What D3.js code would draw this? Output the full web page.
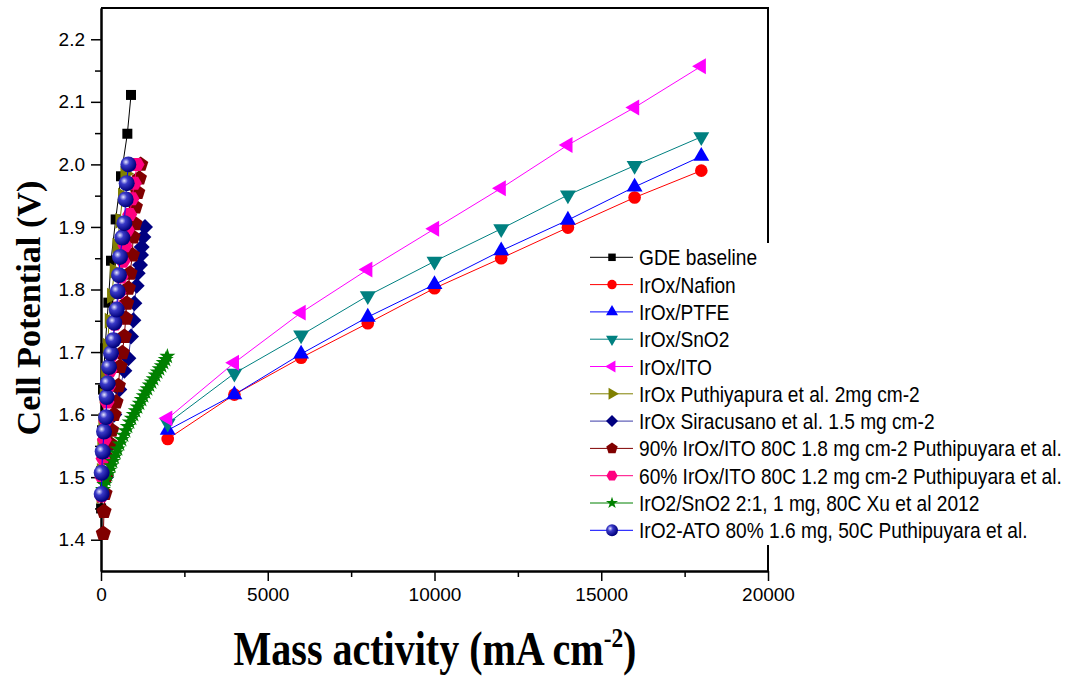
<!DOCTYPE html>
<html>
<head>
<meta charset="utf-8">
<script src="https://cdn.jsdelivr.net/npm/d3@7"></script>
<style>
  body { margin: 0; background: #fff; }
</style>
</head>
<body>
<div id="chart"></div>
<script>
// ---- data ----
var highX = [2000, 4000, 6000, 8000, 10000, 12000, 14000, 16000, 18000];
var nafionV = [1.561, 1.632, 1.691, 1.746, 1.802, 1.850, 1.899, 1.947, 1.990];
var ptfeV   = [1.575, 1.632, 1.697, 1.756, 1.808, 1.862, 1.911, 1.964, 2.013];
var sno2V   = [1.586, 1.666, 1.727, 1.790, 1.845, 1.897, 1.951, 1.998, 2.044];
var itoV    = [1.594, 1.683, 1.763, 1.832, 1.897, 1.962, 2.031, 2.091, 2.157];

var gdeX = [3, 10, 30, 60, 120, 220, 300, 440, 600, 790, 900];
var gdeV = [1.45, 1.51, 1.575, 1.64, 1.706, 1.779, 1.846, 1.912, 1.981, 2.049, 2.111];

var puthX = [5, 15, 30, 60, 100, 140, 190, 250, 320, 400, 480, 570, 650, 720];
var puthV = [1.47, 1.51, 1.55, 1.59, 1.63, 1.67, 1.71, 1.75, 1.79, 1.83, 1.87, 1.91, 1.95, 1.985];

var siraX = [150, 250, 400, 550, 700, 820, 900, 970, 1000, 1070, 1100, 1170, 1200, 1220, 1270, 1320];
var siraV = [1.50, 1.55, 1.60, 1.64, 1.67, 1.69, 1.725, 1.751, 1.778, 1.806, 1.826, 1.839, 1.855, 1.868, 1.884, 1.90];

var ito90X = [70, 90, 120, 150, 220, 270, 320, 390, 450, 520, 570, 640, 700, 740, 770, 820, 870, 940, 960, 1020, 1030, 1100, 1150, 1190];
var ito90V = [1.41, 1.445, 1.474, 1.501, 1.53, 1.554, 1.575, 1.60, 1.62, 1.646, 1.677, 1.699, 1.725, 1.754, 1.778, 1.802, 1.826, 1.855, 1.884, 1.905, 1.932, 1.955, 1.978, 2.0];

var ito60X = [15, 30, 60, 100, 140, 180, 220, 270, 320, 370, 420, 480, 540, 600, 660, 720, 790, 860, 930, 1000, 1080];
var ito60V = [1.47, 1.50, 1.53, 1.56, 1.59, 1.62, 1.645, 1.67, 1.695, 1.72, 1.745, 1.77, 1.795, 1.82, 1.845, 1.87, 1.895, 1.92, 1.945, 1.97, 2.0];

var xuX = [60, 100, 150, 200, 250, 300, 350, 400, 450, 500, 560, 620, 680, 740, 800, 860, 920, 980, 1040, 1100, 1160, 1220, 1280, 1340, 1400, 1460, 1520, 1580, 1640, 1700, 1760, 1820, 1880, 1940, 1990];
var xuV = [1.480, 1.488, 1.496, 1.504, 1.511, 1.518, 1.525, 1.532, 1.539, 1.545, 1.553, 1.560, 1.567, 1.574, 1.581, 1.588, 1.594, 1.600, 1.606, 1.612, 1.618, 1.624, 1.630, 1.636, 1.641, 1.647, 1.652, 1.657, 1.663, 1.668, 1.673, 1.678, 1.683, 1.688, 1.693];

var atoX = [20, 20, 50, 90, 150, 170, 200, 240, 300, 370, 400, 470, 500, 540, 570, 640, 700, 740, 770, 820];
var atoV = [1.473, 1.507, 1.541, 1.573, 1.596, 1.628, 1.65, 1.676, 1.698, 1.719, 1.747, 1.768, 1.797, 1.823, 1.852, 1.883, 1.906, 1.944, 1.97, 2.0];

var xTicks = [0, 5000, 10000, 15000, 20000];
var xMinor = [2500, 7500, 12500, 17500];
var yTicks = [1.4, 1.5, 1.6, 1.7, 1.8, 1.9, 2.0, 2.1, 2.2];
var yMinor = [1.45, 1.55, 1.65, 1.75, 1.85, 1.95, 2.05, 2.15];

var legendNames = ["GDE baseline", "IrOx/Nafion", "IrOx/PTFE", "IrOx/SnO2", "IrOx/ITO",
  "IrOx Puthiyapura et al. 2mg cm-2", "IrOx Siracusano et al. 1.5 mg cm-2",
  "90% IrOx/ITO 80C 1.8 mg cm-2 Puthipuyara et al.", "60% IrOx/ITO 80C 1.2 mg cm-2 Puthipuyara et al.",
  "IrO2/SnO2 2:1, 1 mg, 80C Xu et al 2012", "IrO2-ATO 80% 1.6 mg, 50C Puthipuyara et al."];

// ---- setup ----
var svgWidth = 1071, svgHeight = 679;
var plot = {left: 101, right: 768, top: 8, bottom: 571};

var svg = d3.select("#chart").append("svg")
  .attr("width", svgWidth)
  .attr("height", svgHeight)
  .style("font-family", "'Liberation Sans', Arial, sans-serif");

var defs = svg.append("defs");
var grad = defs.append("radialGradient").attr("id", "sphere")
  .attr("cx", "35%").attr("cy", "35%").attr("r", "65%");
grad.append("stop").attr("offset", "0%").attr("stop-color", "#e8e8ff");
grad.append("stop").attr("offset", "35%").attr("stop-color", "#3a3ac8");
grad.append("stop").attr("offset", "100%").attr("stop-color", "#00007a");

var x = d3.scaleLinear().domain([0, 20000]).range([plot.left, plot.right]);
var y = d3.scaleLinear().domain([1.35, 2.25]).range([plot.bottom, plot.top]);

// marker shapes
function poly(n, r, rot) {
  var pts = d3.range(n).map(function(i) {
    var a = rot + i * 2 * Math.PI / n;
    return [r * Math.sin(a), -r * Math.cos(a)];
  });
  return "M" + pts.map(function(p) { return p.join(","); }).join("L") + "Z";
}
function shape(kind, k) {
  switch (kind) {
    case "square": return d3.symbol(d3.symbolSquare, 100 * k * k)();
    case "circle": return d3.symbol(d3.symbolCircle, 125 * k * k)();
    case "up": return d3.symbol(d3.symbolTriangle, 110 * k * k)();
    case "down": return d3.symbol(d3.symbolTriangle, 110 * k * k)();
    case "left": return d3.symbol(d3.symbolTriangle, 110 * k * k)();
    case "right": return d3.symbol(d3.symbolTriangle, 110 * k * k)();
    case "diamond": return poly(4, 8 * k, 0);
    case "pentagon": return poly(5, 8 * k, 0);
    case "hexagon": return poly(6, 7.5 * k, Math.PI / 6);
    case "star": return d3.symbol(d3.symbolStar, 80 * k * k)();
    case "sphere": return d3.symbol(d3.symbolCircle, 200 * k * k)();
  }
}
var rotation = {down: 180, left: -90, right: 90};

var series = [
  {xs: gdeX, vs: gdeV, line: "#000", fill: "#000", kind: "square"},
  {xs: highX, vs: nafionV, line: "#ff0000", fill: "#ff0000", kind: "circle"},
  {xs: highX, vs: ptfeV, line: "#0000ff", fill: "#0000ff", kind: "up"},
  {xs: highX, vs: sno2V, line: "#008080", fill: "#008080", kind: "down"},
  {xs: highX, vs: itoV, line: "#ff00ff", fill: "#ff00ff", kind: "left"},
  {xs: puthX, vs: puthV, line: "#808000", fill: "#808000", kind: "right"},
  {xs: siraX, vs: siraV, line: "#3c3ca8", fill: "#000080", kind: "diamond"},
  {xs: ito90X, vs: ito90V, line: "#800000", fill: "#800000", kind: "pentagon"},
  {xs: ito60X, vs: ito60V, line: "#ff0080", fill: "#ff0080", kind: "hexagon"},
  {xs: xuX, vs: xuV, line: "#008000", fill: "#008000", kind: "star"},
  {xs: atoX, vs: atoV, line: "#0000ff", fill: "url(#sphere)", kind: "sphere"}
];

function markerTransform(kind, px, py) {
  var r = rotation[kind] || 0;
  return "translate(" + px + "," + py + ")" + (r ? " rotate(" + r + ")" : "");
}

// ---- axes ----
function styleAxis(g) {
  g.selectAll("path.domain").attr("stroke", "#000").attr("stroke-width", 2);
  g.selectAll(".tick line").attr("stroke", "#000").attr("stroke-width", 1.5);
  g.selectAll(".tick text").attr("fill", "#000").style("font-size", "19px")
    .style("font-family", "'Liberation Sans', Arial, sans-serif");
}

svg.append("g").attr("transform", "translate(0," + plot.bottom + ")")
  .call(d3.axisBottom(x).tickValues(xMinor).tickSize(6).tickSizeOuter(0).tickFormat(""))
  .call(styleAxis);
svg.append("g").attr("transform", "translate(0," + plot.bottom + ")")
  .call(d3.axisBottom(x).tickValues(xTicks).tickSize(10).tickSizeOuter(0).tickPadding(7).tickFormat(d3.format("d")))
  .call(styleAxis);
svg.append("g").attr("transform", "translate(" + plot.left + ",0)")
  .call(d3.axisLeft(y).tickValues(yMinor).tickSize(6).tickSizeOuter(0).tickFormat(""))
  .call(styleAxis);
svg.append("g").attr("transform", "translate(" + plot.left + ",0)")
  .call(d3.axisLeft(y).tickValues(yTicks).tickSize(10).tickSizeOuter(0).tickPadding(6).tickFormat(d3.format(".1f")))
  .call(styleAxis);

// frame top and right
svg.append("path")
  .attr("d", "M" + plot.left + "," + plot.top + "H" + plot.right + "V" + plot.bottom)
  .attr("fill", "none").attr("stroke", "#000").attr("stroke-width", 2);

// ---- series ----
var lineGen = d3.line().x(function(d) { return x(d[0]); }).y(function(d) { return y(d[1]); });

series.forEach(function(s) {
  var pts = s.xs.map(function(v, i) { return [v, s.vs[i]]; });
  var g = svg.append("g");
  g.append("path").datum(pts).attr("d", lineGen)
    .attr("fill", "none").attr("stroke", s.line).attr("stroke-width", 1);
  g.selectAll("path.m").data(pts).enter().append("path").attr("class", "m")
    .attr("d", shape(s.kind, 1))
    .attr("transform", function(d) { return markerTransform(s.kind, x(d[0]), y(d[1])); })
    .attr("fill", s.fill);
});

// ---- legend ----
var legend = svg.append("g");
legend.append("rect").attr("x", 583).attr("y", 243).attr("width", 483).attr("height", 302).attr("fill", "#fff");
var rowY0 = 257.3, rowStep = 27.3;
var legendScale = 0.87;
series.forEach(function(s, i) {
  var cy = rowY0 + i * rowStep;
  legend.append("line").attr("x1", 590).attr("x2", 633).attr("y1", cy).attr("y2", cy)
    .attr("stroke", s.line).attr("stroke-width", 1);
  legend.append("path").attr("d", shape(s.kind, 0.75))
    .attr("transform", markerTransform(s.kind, 612, cy)).attr("fill", s.fill);
  legend.append("g").attr("transform", "translate(639," + (cy + 8) + ") scale(" + legendScale + ",1)")
    .append("text").attr("x", 0).attr("y", 0)
    .style("font-size", "22px").attr("fill", "#000")
    .text(legendNames[i]);
});

// ---- axis titles ----
var xt = svg.append("g").append("text")
  .attr("text-anchor", "middle")
  .style("font-family", "'Liberation Serif', 'Times New Roman', serif")
  .style("font-weight", "bold").style("font-size", "48px");
xt.append("tspan").text("Mass activity (mA cm");
xt.append("tspan").attr("dy", -18).style("font-size", "28px").text("-2");
xt.append("tspan").attr("dy", 18).text(")");
var xw = xt.node().getComputedTextLength();
xt.node().parentNode.setAttribute("transform", "translate(435,665) scale(" + (403 / xw) + ",1)");

var yt = svg.append("g").append("text")
  .attr("text-anchor", "middle")
  .style("font-family", "'Liberation Serif', 'Times New Roman', serif")
  .style("font-weight", "bold").style("font-size", "33px")
  .text("Cell Potential (V)");
var yw = yt.node().getComputedTextLength();
yt.node().parentNode.setAttribute("transform", "translate(40,308) rotate(-90) scale(" + (255 / yw) + ",1)");
</script>
</body>
</html>
